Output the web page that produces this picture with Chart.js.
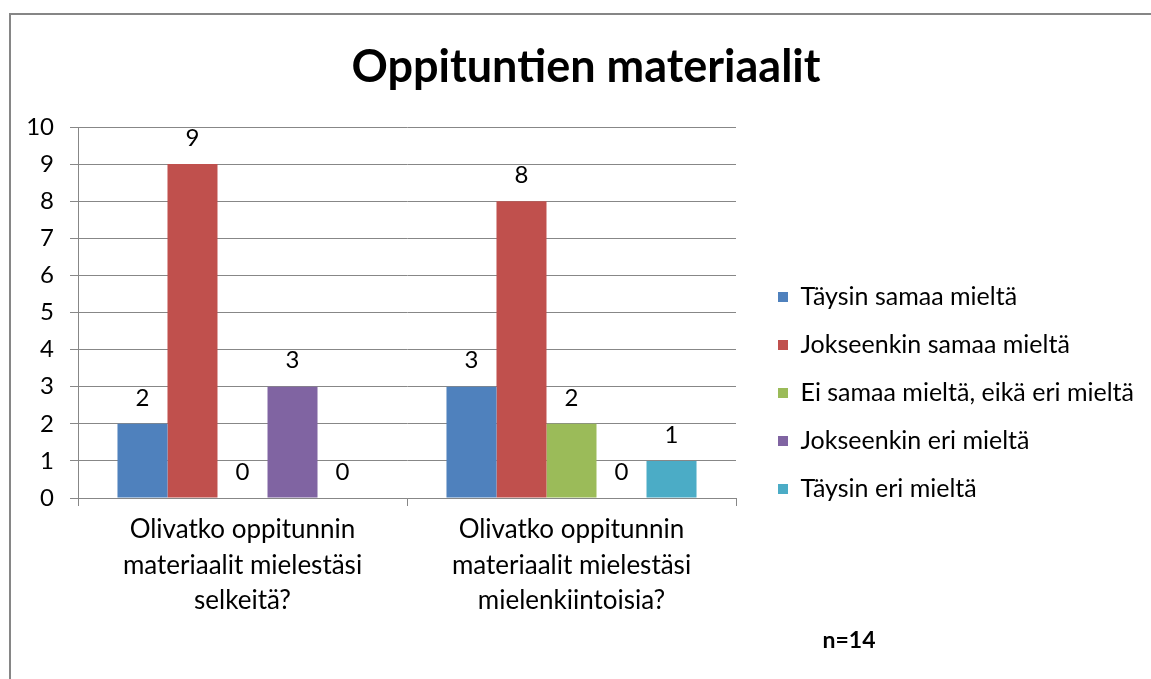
<!DOCTYPE html>
<html>
<head>
<meta charset="utf-8">
<script src="https://cdn.jsdelivr.net/npm/chart.js@4.4.1/dist/chart.umd.min.js"></script>
<style>
  body { margin: 0; background: #fff; overflow: hidden; }
  #frame {
    position: absolute; left: 9px; top: 13px; width: 1200px; height: 720px;
    border-left: 2px solid #868686; border-top: 2px solid #868686;
  }
  #box { position: absolute; left: 11px; top: 15px; width: 1154px; height: 756px; }
  #note {
    position: absolute; left: 799px; top: 625px; width: 100px; text-align: center;
    font: bold 23px Lato, sans-serif; color: #000;
  }
</style>
</head>
<body>
<div id="frame"></div>
<div id="box"><canvas id="chart"></canvas></div>
<div id="note">n=14</div>
<script>
const chartTitle = "Oppituntien materiaalit";
const questions = [
  ["Olivatko oppitunnin", "materiaalit mielestäsi", "selkeitä?"],
  ["Olivatko oppitunnin", "materiaalit mielestäsi", "mielenkiintoisia?"]
];
const seriesNames = [
  "Täysin samaa mieltä",
  "Jokseenkin samaa mieltä",
  "Ei samaa mieltä, eikä eri mieltä",
  "Jokseenkin eri mieltä",
  "Täysin eri mieltä"
];
const taysinSamaa = [2, 3];
const jokseenkinSamaa = [9, 8];
const eiSamaaEikaEri = [0, 2];
const jokseenkinEri = [3, 0];
const taysinEri = [0, 1];
const seriesColors = ["#4F81BD", "#C0504D", "#9BBB59", "#8064A2", "#4BACC6"];

const FONT = "Lato";
const GRID = "#878787";
const legendSize = 25;
const legendPad = 23;

// legend box should start at x=767 inside the canvas, title centred at 575,
// plot area ends at 725
let m = document.createElement("canvas").getContext("2d");
m.font = legendSize + "px " + FONT;
let widest = Math.max(...seriesNames.map((s) => m.measureText(s).width));
let legendWidth = legendPad + 10 + legendSize / 2 + widest + 10;
let usedWidth = 767 - legendPad + legendWidth;
let padRight = Math.max(1154 - usedWidth, 0);
let padLeft = Math.max(1150 - usedWidth, 0);
let gapWidth = 767 - legendPad - 725;

// draws the number above every bar, zeros too
const valueLabels = {
  id: "valueLabels",
  afterDatasetsDraw(chart) {
    let ctx = chart.ctx;
    ctx.save();
    ctx.font = "24px " + FONT;
    ctx.fillStyle = "#000";
    ctx.textAlign = "center";
    ctx.textBaseline = "middle";
    chart.data.datasets.forEach((ds, i) => {
      chart.getDatasetMeta(i).data.forEach((bar, j) => {
        ctx.fillText(String(ds.data[j]), bar.x, bar.y - 26);
      });
    });
    ctx.restore();
  },
};

let allSeries = [taysinSamaa, jokseenkinSamaa, eiSamaaEikaEri, jokseenkinEri, taysinEri];

new Chart(document.getElementById("chart"), {
  type: "bar",
  data: {
    labels: questions,
    datasets: allSeries.map((values, i) => ({
      label: seriesNames[i],
      data: values,
      backgroundColor: seriesColors[i],
      borderWidth: 0,
      barPercentage: 1,
      categoryPercentage: 0.76,
      yAxisID: "y",
    })),
  },
  plugins: [valueLabels],
  options: {
    responsive: true,
    maintainAspectRatio: false,
    animation: false,
    layout: { padding: { left: padLeft, right: padRight, top: 0, bottom: 0 } },
    plugins: {
      title: {
        display: true,
        text: chartTitle,
        color: "#000",
        font: { family: FONT, size: 45, weight: "bold", lineHeight: 1.2 },
        padding: { top: 25, bottom: 33 },
      },
      legend: {
        position: "right",
        align: "center",
        maxWidth: 600,
        labels: {
          boxWidth: 10,
          boxHeight: 10,
          padding: legendPad,
          color: "#000",
          font: { family: FONT, size: legendSize },
        },
      },
      tooltip: { enabled: false },
    },
    scales: {
      x: {
        offset: true,
        grid: { offset: true, drawOnChartArea: false, tickLength: 8, color: GRID },
        border: { color: GRID },
        ticks: {
          color: "#000",
          padding: 6,
          font: { family: FONT, size: 26, lineHeight: 1.365 },
        },
        afterFit(s) {
          s.height = 273;
        },
      },
      y: {
        position: "left",
        min: 0,
        max: 10,
        ticks: {
          stepSize: 1,
          padding: 16,
          color: "#000",
          font: { family: FONT, size: 24 },
        },
        grid: { color: GRID, tickLength: 8 },
        border: { color: GRID },
        afterFit(s) {
          s.width = 67 - padLeft;
        },
      },
      // empty spacer so the plot stops short of the legend
      spacer: {
        type: "linear",
        axis: "y",
        position: "right",
        grid: { display: false },
        border: { display: false },
        ticks: { display: false },
        afterFit(s) {
          s.width = gapWidth;
        },
      },
    },
  },
});
</script>
</body>
</html>
